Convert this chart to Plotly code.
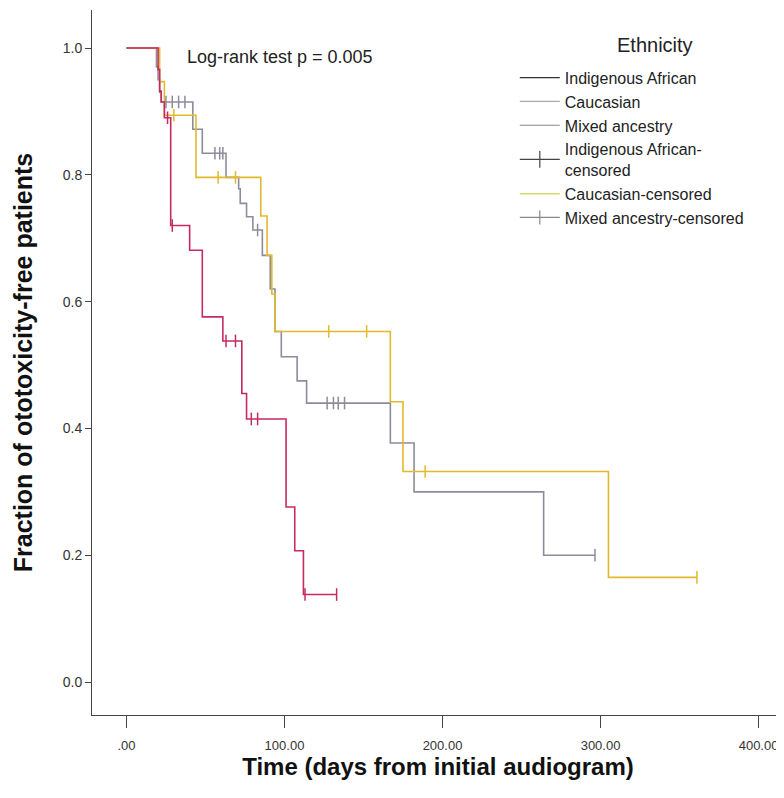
import plotly.graph_objects as go

# ---- data ----
ia_time = [0, 20, 21, 22, 24, 28, 40, 48, 61, 73, 76, 101, 106.5, 112, 133]
ia_surv = [1.0, 0.966, 0.932, 0.915, 0.89, 0.72, 0.681, 0.576, 0.538, 0.455, 0.415, 0.276, 0.207, 0.138, 0.138]
ia_cens_time = [26, 29, 63, 69, 79, 83, 113, 133]
ia_cens_surv = [0.89, 0.72, 0.538, 0.538, 0.415, 0.415, 0.138, 0.138]

ca_time = [0, 21, 24, 44, 85, 89, 92, 94, 167, 175, 305, 361]
ca_surv = [1.0, 0.947, 0.894, 0.796, 0.735, 0.673, 0.612, 0.553, 0.442, 0.332, 0.165, 0.165]
ca_cens_time = [30, 58, 69, 128, 152, 189, 361]
ca_cens_surv = [0.894, 0.796, 0.796, 0.553, 0.553, 0.332, 0.165]

mx_time = [0, 19, 20, 21, 22, 42, 48, 63, 71, 72, 76, 80, 86, 91, 94, 98, 108, 114, 167, 182, 264, 296.5]
mx_surv = [1.0, 0.97, 0.95, 0.93, 0.915, 0.872, 0.834, 0.796, 0.778, 0.755, 0.734, 0.713, 0.673, 0.62, 0.553,
           0.513, 0.475, 0.44, 0.377, 0.30, 0.20, 0.20]
mx_cens_time = [25, 29, 33, 37, 56, 59, 61, 83, 127, 131, 134, 138, 296.5]
mx_cens_surv = [0.915, 0.915, 0.915, 0.915, 0.834, 0.834, 0.834, 0.713, 0.44, 0.44, 0.44, 0.44, 0.20]

x_tickvals = [0, 100, 200, 300, 400]
x_ticktext = [".00", "100.00", "200.00", "300.00", "400.00"]
y_tickvals = [0.0, 0.2, 0.4, 0.6, 0.8, 1.0]

legend_names = ["Indigenous African", "Caucasian", "Mixed ancestry",
                "Indigenous African-<br>censored", "Caucasian-censored", "Mixed ancestry-censored"]

COL_IA = "#c62a64"
COL_CA = "#e3b92c"
COL_MX = "#8d8c9c"

FONT = "Liberation Sans, Arial, sans-serif"

fig = go.Figure()

# curves
for t, s, c in [(mx_time, mx_surv, COL_MX), (ca_time, ca_surv, COL_CA), (ia_time, ia_surv, COL_IA)]:
    fig.add_trace(go.Scatter(x=t, y=s, mode="lines", line=dict(color=c, width=1.6, shape="hv"),
                             showlegend=False, hoverinfo="skip"))

# censor marks
for t, s, c in [(mx_cens_time, mx_cens_surv, COL_MX), (ca_cens_time, ca_cens_surv, COL_CA),
                (ia_cens_time, ia_cens_surv, COL_IA)]:
    fig.add_trace(go.Scatter(x=t, y=s, mode="markers",
                             marker=dict(symbol="line-ns", size=9, line=dict(color=c, width=1.5)),
                             showlegend=False, hoverinfo="skip"))

# legend entries (as in the reference legend)
leg_styles = [
    dict(mode="lines", line=dict(color="#333333", width=1.2)),
    dict(mode="lines", line=dict(color="#aaaaaa", width=1.2)),
    dict(mode="lines", line=dict(color="#888888", width=1.2)),
    dict(mode="lines+markers", line=dict(color="#444444", width=1.2),
         marker=dict(symbol="line-ns", size=12, line=dict(color="#444444", width=1.2))),
    dict(mode="lines", line=dict(color="#cfdc6a", width=1.5)),
    dict(mode="lines+markers", line=dict(color="#888888", width=1.2),
         marker=dict(symbol="line-ns", size=10, line=dict(color="#888888", width=1.2))),
]
for name, st in zip(legend_names, leg_styles):
    fig.add_trace(go.Scatter(x=[None], y=[None], name=name, showlegend=True, **st))

fig.add_annotation(text="Log-rank test p = 0.005", xref="paper", yref="paper",
                   x=0.134, y=0.933, xanchor="left", yanchor="middle", showarrow=False,
                   font=dict(family=FONT, size=18, color="#222222"))

fig.add_annotation(text="Ethnicity", xref="paper", yref="paper",
                   x=0.8136, y=0.950, xanchor="center", yanchor="middle", showarrow=False,
                   font=dict(family=FONT, size=20, color="#222222"))

fig.update_layout(
    width=776, height=790,
    margin=dict(l=84, r=0, t=2, b=83),
    paper_bgcolor="white", plot_bgcolor="white",
    font=dict(family=FONT, size=14, color="#222222"),
    legend=dict(
        x=0.611, y=0.928, xanchor="left", yanchor="top",
        bgcolor="rgba(0,0,0,0)", font=dict(family=FONT, size=16, color="#222222"),
        tracegroupgap=0, itemwidth=40,
    ),
    xaxis=dict(
        range=[-21.8, 416.1], showgrid=False, zeroline=False, showline=True, linecolor="#444444",
        linewidth=1, ticks="outside", ticklen=12, tickcolor="#444444",
        tickvals=x_tickvals, ticktext=x_ticktext, ticklabelstandoff=6,
        tickfont=dict(family=FONT, size=13, color="#333333"),
        title=dict(text="<b>Time (days from initial audiogram)</b>", standoff=6,
                   font=dict(family=FONT, size=24, color="#111111")),
    ),
    yaxis=dict(
        range=[-0.052, 1.06], showgrid=False, zeroline=False, showline=True, linecolor="#444444",
        linewidth=1, ticks="outside", ticklen=6, tickcolor="#444444",
        tickvals=y_tickvals, tickformat=".1f",
        tickfont=dict(family=FONT, size=14, color="#333333"),
        title=dict(text="<b>Fraction of ototoxicity-free patients</b>", standoff=22,
                   font=dict(family=FONT, size=25, color="#111111")),
    ),
)

fig.write_html("out.html")
